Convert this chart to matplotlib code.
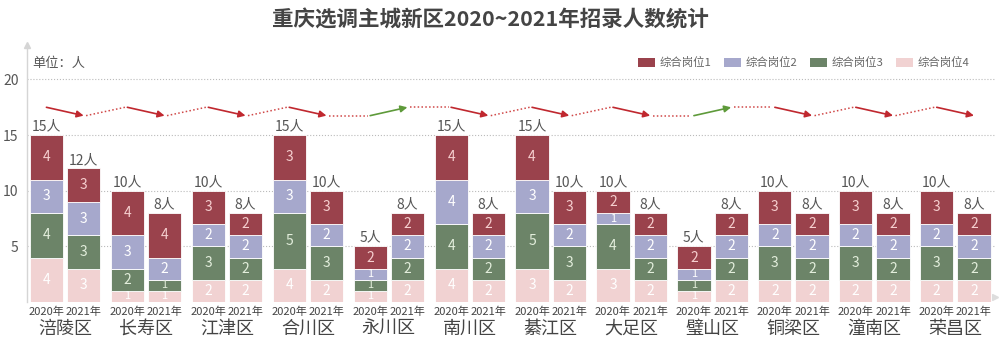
import matplotlib
matplotlib.use("Agg")
import matplotlib.pyplot as plt
import numpy as np
from matplotlib.patches import Patch
from matplotlib.transforms import blended_transform_factory

plt.rcParams['font.family'] = ['Noto Sans CJK SC', 'DejaVu Sans']

districts = ["涪陵区", "长寿区", "江津区", "合川区", "永川区", "南川区",
             "綦江区", "大足区", "璧山区", "铜梁区", "潼南区", "荣昌区"]
years = ["2020年", "2021年"]
series_names = ["综合岗位1", "综合岗位2", "综合岗位3", "综合岗位4"]

# segment heights per district (as drawn in the reference)
pos4_2020 = [4, 1, 2, 3, 1, 3, 3, 3, 1, 2, 2, 2]
pos3_2020 = [4, 2, 3, 5, 1, 4, 5, 4, 1, 3, 3, 3]
pos2_2020 = [3, 3, 2, 3, 1, 4, 3, 1, 1, 2, 2, 2]
pos1_2020 = [4, 4, 3, 4, 2, 4, 4, 2, 2, 3, 3, 3]
total_2020 = [15, 10, 10, 15, 5, 15, 15, 10, 5, 10, 10, 10]
# numbers printed on the 岗位4 / 岗位1 segments of 2020 bars
pos4_2020_label = [4, 1, 2, 4, 1, 4, 3, 3, 1, 2, 2, 2]
pos1_2020_label = [4, 4, 3, 3, 2, 4, 4, 2, 2, 3, 3, 3]

pos4_2021 = [3, 1, 2, 2, 2, 2, 2, 2, 2, 2, 2, 2]
pos3_2021 = [3, 1, 2, 3, 2, 2, 3, 2, 2, 2, 2, 2]
pos2_2021 = [3, 2, 2, 2, 2, 2, 2, 2, 2, 2, 2, 2]
pos1_2021 = [3, 4, 2, 3, 2, 2, 3, 2, 2, 2, 2, 2]
total_2021 = [12, 8, 8, 10, 8, 8, 10, 8, 8, 8, 8, 8]

colors = ["#9A424C", "#A6A8CC", "#6C8468", "#F1D2D2"]
text_colors = ["#F6CFCF", "#FFFFFF", "#E3EEDC", "#FFFFFF"]

fig = plt.figure(figsize=(10, 3.57), dpi=100)
ax = fig.add_axes([0.027, 0.154, 0.968, 0.72])

n = len(districts)
gx = np.arange(n)
off = 0.23
width = 0.41

data_2020 = [pos4_2020, pos3_2020, pos2_2020, pos1_2020]
labels_2020 = [pos4_2020_label, pos3_2020, pos2_2020, pos1_2020_label]
data_2021 = [pos4_2021, pos3_2021, pos2_2021, pos1_2021]
# stack order bottom->top: 岗位4, 岗位3, 岗位2, 岗位1
stack_idx = [3, 2, 1, 0]

for xs, data, labs, totals in [(gx - off, data_2020, labels_2020, total_2020),
                               (gx + off, data_2021, data_2021, total_2021)]:
    bottom = np.zeros(n)
    for k, vals in enumerate(data):
        ci = stack_idx[k]
        vals = np.array(vals, dtype=float)
        ax.bar(xs, vals, width, bottom=bottom, color=colors[ci],
               edgecolor="white", linewidth=0.6, zorder=3)
        for x, b, v, lab in zip(xs, bottom, vals, labs[k]):
            fs = 10 if v >= 2 else 8
            ax.text(x, b + v / 2, f"{lab}", ha="center", va="center",
                    fontsize=fs, color=text_colors[ci], zorder=4)
        bottom = bottom + vals
    for x, top, t in zip(xs, bottom, totals):
        ax.text(x, top + 0.15, f"{t}人", ha="center", va="bottom",
                fontsize=10, color="#555555", zorder=4)

# trend arrows
hi, lo = 17.5, 16.75
prev_end = None
for i in range(n):
    up = total_2021[i] > total_2020[i]
    y0, y1 = (lo, hi) if up else (hi, lo)
    col = "#5E9A3A" if up else "#C0282F"
    x0, x1 = gx[i] - off, gx[i] + off
    if prev_end is not None:
        ax.plot([prev_end[0], x0 - 0.03], [prev_end[1], y0], ls=(0, (1, 1.5)),
                color="#D04848", lw=1.1, zorder=2)
    ax.annotate("", xy=(x1, y1), xytext=(x0, y0),
                arrowprops=dict(arrowstyle="-|>", color=col, lw=1.2,
                                mutation_scale=10, shrinkA=0, shrinkB=0),
                zorder=5)
    prev_end = (x1 + 0.03, y1)

ax.set_xlim(-0.47, 11.49)
ax.set_ylim(0, 23.1)

ax.set_xticks(np.concatenate([gx - off, gx + off]))
ax.set_xticklabels([years[0]] * n + [years[1]] * n, fontsize=8, color="#444444")
ax.tick_params(axis="x", length=0, pad=3)
ax.set_yticks([5, 10, 15, 20])
ax.set_yticklabels(["5", "10", "15", "20"], fontsize=10, color="#555555")
ax.tick_params(axis="y", length=0, pad=6)

for y in [5, 10, 15, 20]:
    ax.axhline(y, color="#BBBBBB", lw=0.8, ls=":", zorder=1)

for s in ["top", "right", "bottom"]:
    ax.spines[s].set_visible(False)
ax.spines["left"].set_color("#D5D5D5")
ax.spines["left"].set_linewidth(1.0)
ax.plot([0], [1], marker="^", color="#D5D5D5", markersize=5,
        transform=ax.transAxes, clip_on=False)
ax.plot([1.0], [0.02], marker=">", color="#DDDDDD", markersize=5,
        transform=ax.transAxes, clip_on=False)

trans = blended_transform_factory(ax.transData, ax.transAxes)
for i, d in enumerate(districts):
    ax.text(gx[i], -0.105, d, ha="center", va="center", fontsize=13,
            color="#444444", transform=trans)

ax.text(0.005, 0.93, "单位：人", transform=ax.transAxes, ha="left", va="center",
        fontsize=9.5, color="#555555")

handles = [Patch(facecolor=c, edgecolor="none") for c in colors]
fig.legend(handles, series_names, loc="center right", bbox_to_anchor=(0.98, 0.824),
           ncol=4, frameon=False, fontsize=8.2, labelcolor="#666666",
           handlelength=1.5, handleheight=0.9, handletextpad=0.4, columnspacing=1.1)

fig.text(0.49, 0.945, "重庆选调主城新区2020~2021年招录人数统计", ha="center", va="center",
         fontsize=15.5, fontweight="bold", color="#444444")

fig.savefig("out.png", dpi=100, facecolor="white")
